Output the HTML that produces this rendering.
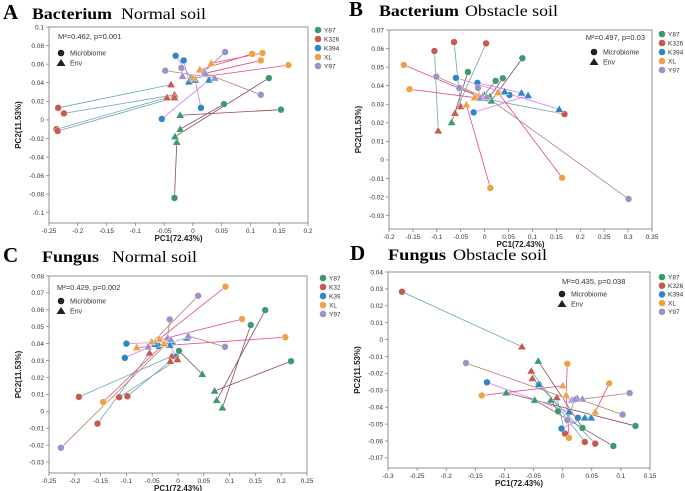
<!DOCTYPE html>
<html><head><meta charset="utf-8"><style>
html,body{margin:0;padding:0;background:#fff;width:685px;height:491px;overflow:hidden}
svg{display:block;font-family:"Liberation Sans",sans-serif}
.ttl{font-family:"Liberation Serif",serif}
</style></head><body>
<svg id="fig" width="685" height="491" viewBox="0 0 685 491"></svg>
<script>
const groups = ['Y87','K326','K394','XL','Y97'];
const groupColors = ['#3d9a6b','#c65a4b','#2f86c6','#eea244','#9c91c9'];
const lineColors = ['#8a4a5c','#6aa6b4','#d47ce6','#e6468a','#b3846e'];

// Panel A: Bacterium Normal soil
const aMicrobiome = [
 [[-0.032,-0.084],[0.132,0.045],[0.054,0.017],[0.153,0.011]],
 [[-0.234,0.013],[-0.224,0.007],[-0.237,-0.010],[-0.235,-0.012]],
 [[-0.030,0.069],[-0.016,0.064],[0.014,0.013],[-0.054,0.001]],
 [[0.103,0.071],[0.121,0.072],[0.118,0.064],[0.166,0.059]],
 [[0.056,0.073],[-0.048,0.053],[-0.020,0.056],[0.118,0.027]]];
const aEnv = [
 [[-0.028,-0.024],[-0.031,-0.018],[-0.022,-0.010],[-0.022,0.005]],
 [[-0.038,0.038],[-0.032,0.027],[-0.045,0.024],[-0.032,0.024]],
 [[-0.003,0.045],[-0.007,0.041],[0.004,0.043],[0.028,0.043]],
 [[0.012,0.054],[0.032,0.061],[0.020,0.050],[0.000,0.045]],
 [[0.020,0.052],[0.038,0.045],[-0.018,0.047],[0.022,0.050]]];
const aXTicks = [-0.25,-0.2,-0.15,-0.1,-0.05,0,0.05,0.1,0.15,0.2];
const aYTicks = [-0.1,-0.08,-0.06,-0.04,-0.02,0,0.02,0.04,0.06,0.08,0.1];

// Panel B: Bacterium Obstacle soil
const bMicrobiome = [
 [[-0.035,0.0474],[0.023,0.0426],[0.038,0.044],[0.079,0.0548]],
 [[-0.105,0.0587],[-0.064,0.0635],[0.003,0.0628],[0.167,0.0247]],
 [[-0.060,0.0442],[-0.015,0.0415],[0.052,0.035],[-0.023,0.0256]],
 [[-0.169,0.0512],[-0.157,0.0381],[0.012,-0.0151],[0.162,-0.0096]],
 [[-0.101,0.0449],[-0.053,0.0388],[-0.014,0.0388],[0.301,-0.021]]];
const bEnv = [
 [[-0.069,0.0202],[-0.001,0.035],[0.011,0.0342],[0.014,0.0318]],
 [[-0.097,0.0157],[-0.050,0.0288],[-0.062,0.0252],[-0.018,0.0338]],
 [[0.156,0.0273],[0.077,0.0361],[0.042,0.0368],[0.091,0.0347]],
 [[-0.013,0.0342],[-0.021,0.0336],[-0.038,0.0297],[0.028,0.0363]],
 [[-0.004,0.0342],[0.001,0.0331],[-0.009,0.0333],[0.004,0.034]]];
const bXTicks = [-0.2,-0.15,-0.1,-0.05,0,0.05,0.1,0.15,0.2,0.25,0.3,0.35];
const bYTicks = [-0.03,-0.02,-0.01,0,0.01,0.02,0.03,0.04,0.05,0.06,0.07];

// Panel C: Fungus Normal soil
const cMicrobiome = [
 [[0.169,0.0598],[0.141,0.051],[0.219,0.0296],[0.002,0.0357]],
 [[-0.192,0.0085],[-0.114,0.0083],[-0.098,0.0089],[-0.156,-0.0073]],
 [[-0.100,0.040],[-0.103,0.0316],[-0.038,0.0385],[-0.004,0.0322]],
 [[0.092,0.0737],[0.124,0.0545],[0.208,0.0438],[-0.145,0.0055]],
 [[0.039,0.0683],[-0.016,0.0543],[0.091,0.0381],[-0.227,-0.0216]]];
const cEnv = [
 [[0.075,0.0065],[0.086,0.0021],[0.071,0.012],[0.047,0.0219]],
 [[-0.012,0.0326],[-0.001,0.0306],[-0.015,0.0296],[-0.055,0.0345]],
 [[-0.011,0.0411],[-0.044,0.0397],[0.017,0.0434],[-0.016,0.0391]],
 [[-0.036,0.0427],[-0.051,0.0411],[-0.080,0.0377],[-0.027,0.040]],
 [[-0.058,0.0381],[-0.020,0.0434],[0.020,0.0446],[-0.014,0.0424]]];
const cXTicks = [-0.25,-0.2,-0.15,-0.1,-0.05,0,0.05,0.1,0.15,0.2,0.25];
const cYTicks = [-0.03,-0.02,-0.01,0,0.01,0.02,0.03,0.04,0.05,0.06,0.07,0.08];

// Panel D: Fungus Obstacle soil
const dMicrobiome = [
 [[-0.008,-0.0424],[0.034,-0.0523],[0.125,-0.0511],[0.087,-0.063]],
 [[-0.276,0.0283],[0.004,-0.0556],[0.038,-0.0606],[0.056,-0.0616]],
 [[-0.130,-0.0253],[-0.041,-0.0265],[0.026,-0.0463],[-0.002,-0.0527]],
 [[0.008,-0.0143],[0.080,-0.0259],[-0.139,-0.0331],[0.011,-0.0582]],
 [[-0.166,-0.0139],[0.115,-0.0317],[0.103,-0.0444],[0.008,-0.0477]]];
const dEnv = [
 [[-0.020,-0.0358],[-0.042,-0.0127],[-0.097,-0.0315],[-0.048,-0.0358]],
 [[-0.070,-0.0042],[-0.010,-0.0343],[-0.054,-0.0186],[-0.052,-0.023]],
 [[0.011,-0.0428],[-0.041,-0.0265],[0.049,-0.0463],[0.038,-0.0463]],
 [[0.006,-0.0329],[0.056,-0.0428],[0.000,-0.0273],[0.006,-0.0329]],
 [[0.016,-0.0358],[0.034,-0.0352],[0.025,-0.0348],[0.021,-0.0352]]];
const dXTicks = [-0.3,-0.25,-0.2,-0.15,-0.1,-0.05,0,0.05,0.1,0.15];
const dYTicks = [-0.07,-0.06,-0.05,-0.04,-0.03,-0.02,-0.01,0,0.01,0.02,0.03,0.04];

const NS='http://www.w3.org/2000/svg';
const fig=document.getElementById('fig');
function mk(tag,attrs,parent,text){const e=document.createElementNS(NS,tag);for(const k in attrs)e.setAttribute(k,attrs[k]);if(text!==undefined)e.textContent=text;(parent||fig).appendChild(e);return e;}

const panels=[
 {id:'a',letter:'A',org:'Bacterium',soil:'Normal soil',L:49,R:308,T:27,B:223,xmin:-0.25,xmax:0.2,ymin:-0.111,ymax:0.1,mic:aMicrobiome,env:aEnv,xt:aXTicks,yt:aYTicks,stat:'M²=0.462, p=0.001',statX:58,statY:39,statAnchor:'start',legX:61,legY:53,gx:318,gy:30,gs:9,tx:3,ty:19,orgX:32,orgW:80,soilX:121,soilW:85},
 {id:'b',letter:'B',org:'Bacterium',soil:'Obstacle soil',L:389,R:652,T:30,B:229,xmin:-0.2,xmax:0.35,ymin:-0.0372,ymax:0.07,mic:bMicrobiome,env:bEnv,xt:bXTicks,yt:bYTicks,stat:'M²=0.497, p=0.03',statX:645,statY:40,statAnchor:'end',legX:594,legY:52,gx:662,gy:34,gs:9,tx:349,ty:16,orgX:379,orgW:80,soilX:465,soilW:93},
 {id:'c',letter:'C',org:'Fungus',soil:'Normal soil',L:49,R:307,T:276,B:473,xmin:-0.25,xmax:0.25,ymin:-0.0365,ymax:0.08,mic:cMicrobiome,env:cEnv,xt:cXTicks,yt:cYTicks,stat:'M²=0.429, p=0.002',statX:57,statY:290,statAnchor:'start',legX:61,legY:301,gx:323,gy:278,gs:9,tx:3,ty:262,orgX:42,orgW:57,soilX:112,soilW:85},
 {id:'d',letter:'D',org:'Fungus',soil:'Obstacle soil',L:388,R:650,T:272,B:468,xmin:-0.3,xmax:0.15,ymin:-0.076,ymax:0.04,mic:dMicrobiome,env:dEnv,xt:dXTicks,yt:dYTicks,stat:'M²=0.435, p=0.038',statX:562,statY:284,statAnchor:'start',legX:562,legY:294,gx:662,gy:277,gs:8.7,tx:350,ty:260,orgX:388,orgW:58,soilX:453,soilW:94}
];

function fmt(v){return (Math.round(v*1000)/1000).toString();}

panels.forEach(p=>{
 const g=mk('g',{});
 
 
 const sx=v=>p.L+(v-p.xmin)/(p.xmax-p.xmin)*(p.R-p.L);
 const sy=v=>p.B-(v-p.ymin)/(p.ymax-p.ymin)*(p.B-p.T);
 const t=mk('text',{x:p.tx,y:p.ty,'font-size':21,'font-weight':'bold','class':'ttl',fill:'#000'},g,p.letter);
 
 const t2=mk('text',{x:p.orgX,y:p.ty,'font-size':16,'font-weight':'bold','class':'ttl',fill:'#000',textLength:p.orgW,lengthAdjust:'spacingAndGlyphs'},g,p.org);
 
 const t3=mk('text',{x:p.soilX,y:p.ty,'font-size':16,'class':'ttl',fill:'#000',textLength:p.soilW,lengthAdjust:'spacingAndGlyphs'},g,p.soil);
 
 const box=mk('rect',{x:p.L,y:p.T,width:p.R-p.L,height:p.B-p.T,fill:'none',stroke:'#777','stroke-width':0.8},g);
 
 p.xt.forEach(v=>{
  const x=sx(v);
  mk('line',{x1:x,y1:p.B,x2:x,y2:p.B+3,stroke:'#777','stroke-width':0.7},g);
  const l=mk('text',{x:x,y:p.B+10,'font-size':6.5,'text-anchor':'middle',fill:'#333'},g,fmt(v));
  
 });
 p.yt.forEach(v=>{
  const y=sy(v);
  mk('line',{x1:p.L-3,y1:y,x2:p.L,y2:y,stroke:'#777','stroke-width':0.7},g);
  const l=mk('text',{x:p.L-5,y:y+2.3,'font-size':6.5,'text-anchor':'end',fill:'#333'},g,fmt(v));
  
 });
 const xtit=mk('text',{x:(p.L+p.R)/2,y:p.B+18,'font-size':8,'font-weight':'bold','text-anchor':'middle',fill:'#222'},g,'PC1(72.43%)');
 
 const yc=(p.T+p.B)/2;
 const ytit=mk('text',{x:p.L-28,y:yc,'font-size':8,'font-weight':'bold','text-anchor':'middle',fill:'#222',transform:`rotate(-90 ${p.L-28} ${yc})`},g,'PC2(11.53%)');
 
 p.mic.forEach((arr,gi)=>{arr.forEach((m,i)=>{const e=p.env[gi][i];
  const ln=mk('line',{x1:sx(m[0]),y1:sy(m[1]),x2:sx(e[0]),y2:sy(e[1]),stroke:lineColors[gi],'stroke-width':0.8},g);
  
 });});
 p.mic.forEach((arr,gi)=>{arr.forEach(m=>{
  const c=mk('circle',{cx:sx(m[0]),cy:sy(m[1]),r:3.4,fill:groupColors[gi],stroke:'#fff','stroke-width':0.4},g);
  
 });});
 p.env.forEach((arr,gi)=>{arr.forEach(e=>{
  const x=sx(e[0]),y=sy(e[1]);
  const tr=mk('polygon',{points:`${x},${y-4.2} ${x-4.2},${y+3} ${x+4.2},${y+3}`,fill:groupColors[gi],stroke:'#fff','stroke-width':0.4},g);
  
 });});
 const st=mk('text',{x:p.statX,y:p.statY,'font-size':7.5,'text-anchor':p.statAnchor,fill:'#333'},g,p.stat);
 
 const sl=mk('g',{},g);
 
 mk('circle',{cx:p.legX,cy:p.legY,r:3.3,fill:'#222'},sl);
 mk('text',{x:p.legX+9,y:p.legY+2.5,'font-size':7,fill:'#333'},sl,'Microbiome');
 const ty=p.legY+10;
 mk('polygon',{points:`${p.legX},${ty-4} ${p.legX-4.5},${ty+3} ${p.legX+4.5},${ty+3}`,fill:'#222'},sl);
 mk('text',{x:p.legX+9,y:ty+2.5,'font-size':7,fill:'#333'},sl,'Env');
 groups.forEach((name,gi)=>{
  const y=p.gy+gi*p.gs;
  const le=mk('g',{},g);
  
  
  mk('circle',{cx:p.gx,cy:y,r:3.3,fill:groupColors[gi]},le);
  mk('text',{x:p.gx+6,y:y+2.3,'font-size':6.5,fill:'#333'},le,name);
 });
});
const cov=mk('rect',{x:340,y:25,width:8,height:300,fill:'#fff'});


</script>
</body></html>
